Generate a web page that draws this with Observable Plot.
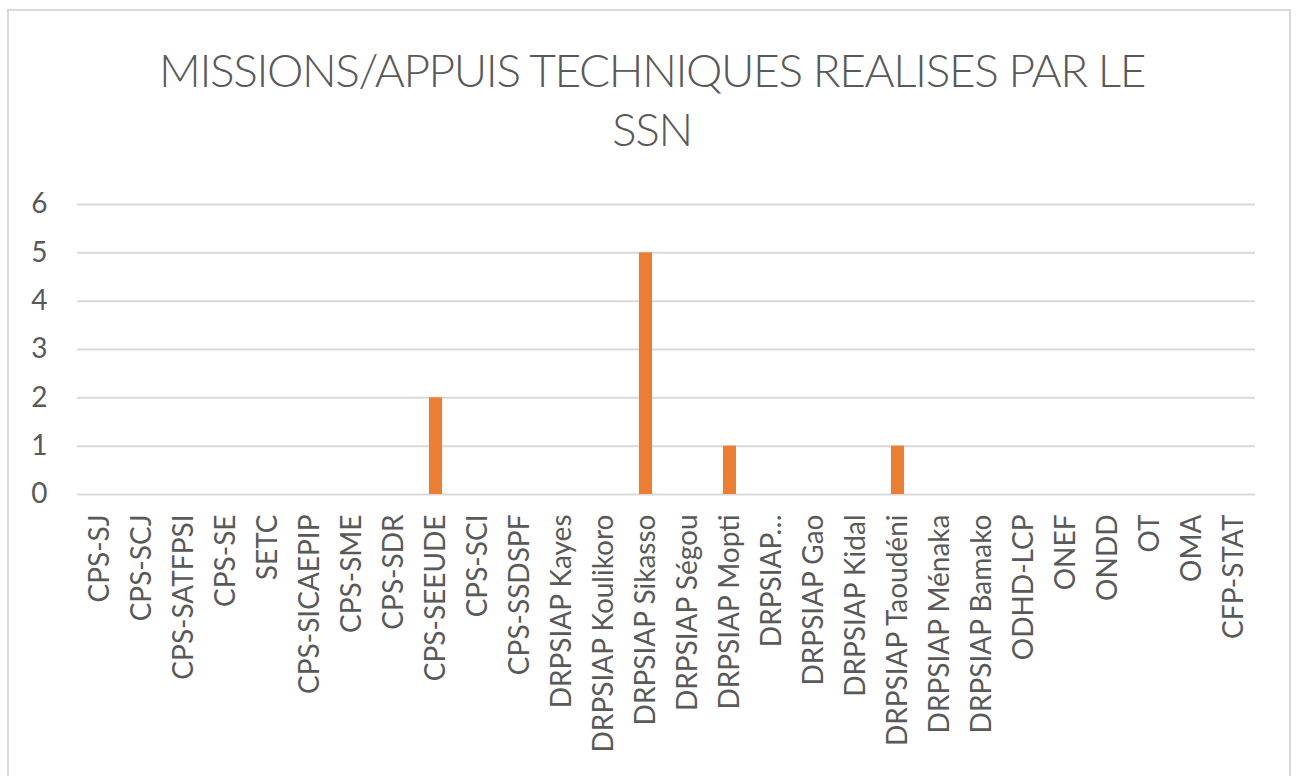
<!DOCTYPE html>
<html>
<head>
<meta charset="utf-8">
<script src="https://cdn.jsdelivr.net/npm/d3@7"></script>
<script src="https://cdn.jsdelivr.net/npm/@observablehq/plot@0.6"></script>
<style>
  html, body { margin: 0; padding: 0; background: #fff; width: 1302px; height: 776px; overflow: hidden; }
  #frame { position: absolute; left: 7px; top: 9px; width: 1284px; height: 820px; box-sizing: border-box;
           border: 2px solid #d9d9d9; }
  .title { position: absolute; left: 0; width: 1304px; text-align: center; font-family: Lato, sans-serif;
           font-weight: 300; font-size: 46px; line-height: 59px; color: #595959; white-space: nowrap;
           letter-spacing: -1.4px; }
  #chart { position: absolute; left: 0; top: 180px; }
</style>
</head>
<body>
<div id="frame"></div>
<div class="title" style="top:40px">MISSIONS/APPUIS TECHNIQUES REALISES PAR LE</div>
<div class="title" style="top:99px">SSN</div>
<div id="chart"></div>
<script>
const categories = [
  "CPS-SJ", "CPS-SCJ", "CPS-SATFPSI", "CPS-SE", "SETC", "CPS-SICAEPIP", "CPS-SME", "CPS-SDR",
  "CPS-SEEUDE", "CPS-SCI", "CPS-SSDSPF", "DRPSIAP Kayes", "DRPSIAP Koulikoro", "DRPSIAP Sikasso",
  "DRPSIAP Ségou", "DRPSIAP Mopti", "DRPSIAP…", "DRPSIAP Gao", "DRPSIAP Kidal", "DRPSIAP Taoudéni",
  "DRPSIAP Ménaka", "DRPSIAP Bamako", "ODHD-LCP", "ONEF", "ONDD", "OT", "OMA", "CFP-STAT"
];
const values = [
  0, 0, 0, 0, 0, 0, 0, 0,
  2, 0, 0, 0, 0, 5,
  0, 1, 0, 0, 0, 1,
  0, 0, 0, 0, 0, 0, 0, 0
];
const yTicks = [0, 1, 2, 3, 4, 5, 6];

const data = categories.map((c, i) => ({name: c, value: values[i]}));

const chart = Plot.plot({
  width: 1302,
  height: 596,
  marginTop: 24,
  marginBottom: 282,
  marginLeft: 77,
  marginRight: 47,
  style: {fontFamily: "Lato, sans-serif", fontSize: "28px", color: "#595959", background: "transparent"},
  x: {type: "band", domain: categories, paddingInner: 0.7, paddingOuter: 0.35, label: null},
  y: {domain: [0, 6], label: null},
  marks: [
    Plot.gridY(yTicks, {stroke: "#d9d9d9", strokeOpacity: 1, strokeWidth: 2}),
    Plot.barY(data, {x: "name", y: "value", fill: "#ED7D31"}),
    Plot.axisY(yTicks, {tickSize: 0, tickPadding: 30, label: null, fontSize: 28}),
    Plot.axisX({tickSize: 0, tickPadding: 20, tickRotate: -90, label: null, fontSize: 28})
  ]
});
document.getElementById("chart").appendChild(chart);
</script>
</body>
</html>
